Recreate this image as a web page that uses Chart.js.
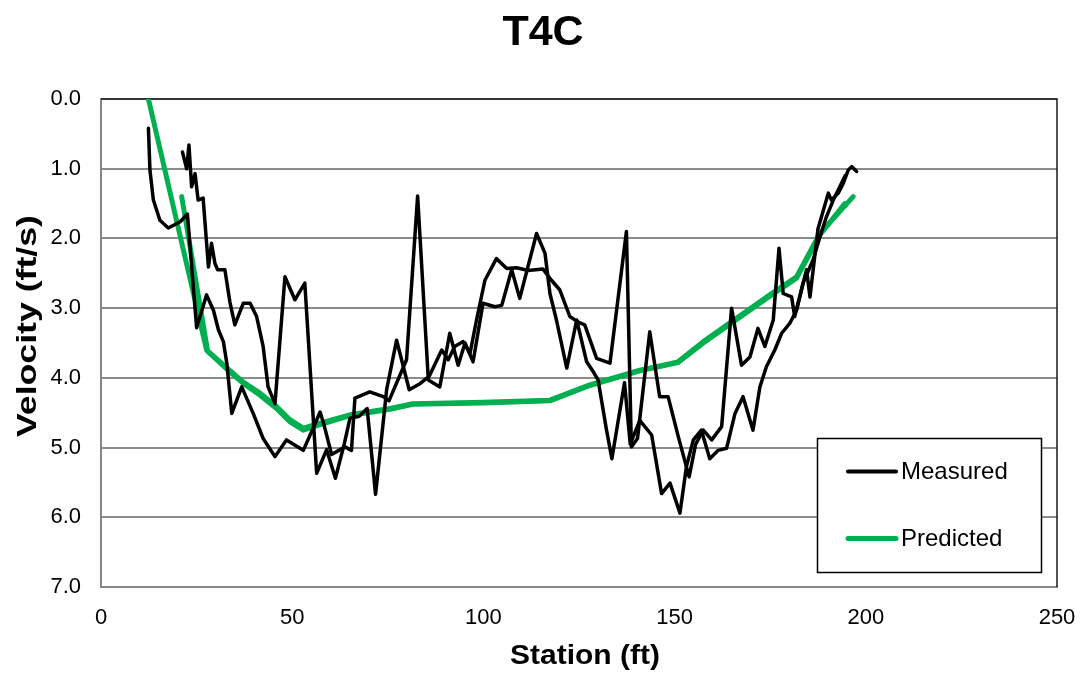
<!DOCTYPE html>
<html>
<head>
<meta charset="utf-8">
<title>T4C</title>
<script src="https://cdn.jsdelivr.net/npm/chart.js@4.4.1/dist/chart.umd.min.js"></script>
<style>
  html, body { margin: 0; padding: 0; background: #ffffff; }
  #wrap { width: 1084px; height: 673px; position: relative; }
</style>
</head>
<body>
<div id="wrap"><canvas id="chart" width="1084" height="673"></canvas></div>
<script>
// Traverse 1, measured velocity along the section
const run1Station = [12.4, 12.8, 13.7, 15.4, 17.6, 20.7, 22.6, 25.0, 27.6, 29.4, 30.7, 32.0, 32.9, 34.2, 36.8, 39.8, 42.4, 45.5, 48.5, 52.9, 55.5, 57.3, 58.2, 60.3, 63.8, 65.5, 66.4, 70.3, 73.8, 75.3, 79.9, 82.8, 85.6, 88.6, 91.2, 93.4, 95.2, 97.3, 99.9, 103.0, 104.8, 107.4, 109.5, 113.9, 116.1, 117.4, 119.1, 121.8, 124.4, 127.0, 128.7, 130.0, 132.2, 133.6, 136.9, 138.4, 140.9, 144.0, 146.6, 148.8, 151.4, 153.1, 154.9, 157.0, 159.2, 161.4, 163.6, 165.8, 167.9, 170.5, 172.3, 174.0, 176.2, 178.0, 180.1, 181.9, 183.6, 186.2, 188.0, 189.7, 191.5, 193.2, 194.6];
const run1Velocity = [0.42, 1.02, 1.45, 1.74, 1.85, 1.76, 1.65, 3.28, 2.81, 3.03, 3.31, 3.48, 3.79, 4.51, 4.13, 4.51, 4.87, 5.13, 4.89, 5.04, 4.72, 4.49, 4.65, 5.10, 4.99, 5.04, 4.29, 4.20, 4.27, 4.33, 3.74, 1.39, 4.03, 4.13, 3.36, 3.82, 3.50, 3.77, 2.93, 2.98, 2.96, 2.45, 2.86, 1.93, 2.21, 2.79, 3.17, 3.86, 3.17, 3.77, 3.91, 4.03, 4.75, 5.16, 4.07, 4.95, 4.61, 4.82, 5.66, 5.51, 5.94, 5.27, 4.89, 4.75, 5.16, 5.04, 5.01, 4.51, 4.27, 4.75, 4.13, 3.84, 3.60, 3.36, 3.22, 3.03, 2.64, 2.31, 1.98, 1.69, 1.45, 1.26, 1.10];

// Traverse 2, measured velocity along the section
const run2Station = [21.3, 22.4, 23.0, 23.7, 24.6, 25.4, 26.7, 28.1, 28.9, 29.8, 30.5, 32.4, 33.7, 35.0, 37.2, 39.0, 40.7, 42.4, 43.7, 45.5, 48.1, 50.7, 53.3, 56.4, 59.0, 61.3, 63.6, 65.1, 67.5, 69.6, 71.8, 74.7, 77.3, 80.6, 83.5, 85.8, 89.1, 90.8, 92.5, 94.7, 96.5, 98.2, 100.4, 103.4, 106.1, 108.7, 111.7, 115.6, 117.8, 120.0, 122.6, 124.8, 126.5, 129.6, 133.1, 137.4, 138.7, 140.3, 143.5, 146.1, 148.3, 151.0, 153.8, 155.5, 157.5, 159.7, 162.3, 164.9, 167.5, 169.7, 171.8, 173.6, 175.8, 177.3, 178.4, 180.6, 181.4, 184.5, 185.4, 187.5, 190.2, 191.0, 192.8, 194.1, 195.4, 196.3, 197.6];
const run2Velocity = [0.76, 1.00, 0.66, 1.26, 1.07, 1.45, 1.42, 2.41, 2.07, 2.36, 2.45, 2.45, 2.91, 3.24, 2.93, 2.93, 3.12, 3.55, 4.13, 4.37, 2.55, 2.88, 2.64, 5.37, 5.03, 5.44, 4.95, 4.58, 4.55, 4.44, 5.67, 4.17, 3.46, 4.17, 4.08, 3.98, 3.60, 3.74, 3.55, 3.48, 3.65, 3.17, 2.60, 2.29, 2.43, 2.42, 2.46, 2.44, 2.60, 2.74, 3.12, 3.20, 3.24, 3.72, 3.79, 1.90, 4.99, 4.87, 3.34, 4.27, 4.27, 4.85, 5.42, 4.95, 4.75, 4.89, 4.70, 3.00, 3.82, 3.70, 3.29, 3.55, 3.17, 2.14, 2.79, 2.84, 3.12, 2.45, 2.84, 1.86, 1.35, 1.45, 1.35, 1.21, 1.02, 0.97, 1.04];

// Predicted velocity for each traverse
const pred1Station = [12.4, 27.6, 33.0, 37.2, 41.6, 45.9, 49.4, 52.9, 57.3, 65.1, 75.6, 81.5, 100.0, 117.4, 127.8, 140.9, 150.9, 157.5, 174.9, 181.9, 188.0, 196.7];
const pred1Velocity = [0.00, 3.60, 3.86, 4.06, 4.22, 4.41, 4.60, 4.72, 4.65, 4.53, 4.44, 4.37, 4.35, 4.32, 4.10, 3.89, 3.77, 3.48, 2.81, 2.55, 1.93, 1.40];
const pred2Station = [21.1, 27.9, 33.0, 37.2, 41.6, 45.9, 49.4, 52.9, 57.3, 65.1, 75.6, 81.5, 100.0, 117.4, 127.8, 140.9, 150.9, 157.5, 174.9, 181.9, 188.0, 194.5];
const pred2Velocity = [1.40, 3.62, 3.88, 4.08, 4.25, 4.44, 4.63, 4.75, 4.67, 4.54, 4.45, 4.38, 4.36, 4.33, 4.11, 3.90, 3.78, 3.50, 2.83, 2.57, 1.95, 1.50];

// Axis ticks
const stationTicks = [0, 50, 100, 150, 200, 250];
const velocityTicks = [0, 1, 2, 3, 4, 5, 6, 7];

const MEASURED = '#000000';
const PREDICTED = '#00B050';
const FONT = '"Liberation Sans", Arial, Helvetica, sans-serif';

function pairs(xs, ys) {
  return xs.map((x, i) => ({ x: x, y: ys[i] }));
}

function lineSet(label, xs, ys, color, width, inLegend) {
  return {
    label: label,
    data: pairs(xs, ys),
    showLine: true,
    borderColor: color,
    backgroundColor: color,
    borderWidth: width,
    pointRadius: 0,
    pointHoverRadius: 0,
    tension: 0,
    fill: false,
    borderCapStyle: 'round',
    borderJoinStyle: 'round',
    inLegend: inLegend
  };
}

// Draws text stretched along its baseline to a given length
function stretchedText(ctx, text, cx, cy, length, angle) {
  const w = ctx.measureText(text).width;
  ctx.save();
  ctx.translate(cx, cy);
  ctx.rotate(angle);
  ctx.scale(length / w, 1);
  ctx.fillText(text, 0, 0);
  ctx.restore();
}

// Title, axis titles, frame and the boxed legend
const decorations = {
  id: 'decorations',
  beforeDatasetsDraw(chart) {
    const { ctx, chartArea: a } = chart;
    ctx.save();
    ctx.strokeStyle = '#1a1a1a';
    ctx.lineWidth = 1.5;
    ctx.beginPath();
    ctx.moveTo(a.left, a.top);
    ctx.lineTo(a.right, a.top);
    ctx.lineTo(a.right, a.bottom);
    ctx.stroke();
    ctx.restore();
  },
  afterDraw(chart) {
    const { ctx, chartArea: a } = chart;
    ctx.save();
    ctx.fillStyle = '#000';
    ctx.textAlign = 'center';
    ctx.textBaseline = 'middle';

    ctx.font = 'bold 43px ' + FONT;
    ctx.fillText('T4C', 543, 33);

    ctx.font = 'bold 28px ' + FONT;
    stretchedText(ctx, 'Station (ft)', 585, 656, 150, 0);
    stretchedText(ctx, 'Velocity (ft/s)', 28, 326, 222, -Math.PI / 2);

    // legend box
    const bx = 817.5, by = 438.5, bw = 224, bh = 134;
    ctx.fillStyle = '#ffffff';
    ctx.fillRect(bx, by, bw, bh);
    ctx.strokeStyle = '#000';
    ctx.lineWidth = 1.5;
    ctx.strokeRect(bx, by, bw, bh);

    const entries = chart.data.datasets.filter(d => d.inLegend);
    const rows = [471.5, 538.5];
    ctx.font = '24px ' + FONT;
    ctx.textAlign = 'left';
    entries.forEach((d, i) => {
      const y = rows[i];
      ctx.strokeStyle = d.borderColor;
      ctx.lineWidth = i === 0 ? 4 : 5;
      ctx.lineCap = 'round';
      ctx.beginPath();
      ctx.moveTo(848, y);
      ctx.lineTo(896, y);
      ctx.stroke();
      ctx.fillStyle = '#000';
      ctx.fillText(d.label, 901, y + 1);
    });
    ctx.restore();
  }
};

new Chart(document.getElementById('chart'), {
  type: 'scatter',
  data: {
    datasets: [
      lineSet('Measured', run1Station, run1Velocity, MEASURED, 3.5, true),
      lineSet('Measured', run2Station, run2Velocity, MEASURED, 3.5, false),
      lineSet('Predicted', pred1Station, pred1Velocity, PREDICTED, 5, true),
      lineSet('Predicted', pred2Station, pred2Velocity, PREDICTED, 5, false)
    ]
  },
  options: {
    responsive: false,
    animation: false,
    devicePixelRatio: 1,
    layout: { padding: { top: 99, right: 27, left: 0, bottom: 0 } },
    plugins: {
      legend: { display: false },
      title: { display: false },
      tooltip: { enabled: false }
    },
    scales: {
      x: {
        type: 'linear',
        min: stationTicks[0],
        max: stationTicks[stationTicks.length - 1],
        afterBuildTicks: (s) => { s.ticks = stationTicks.map(v => ({ value: v })); },
        afterFit: (s) => { s.height = 86; s.paddingLeft = 0; s.paddingRight = 0; },
        ticks: { color: '#000', font: { family: FONT, size: 22 }, padding: 18, maxRotation: 0 },
        grid: { display: false, drawTicks: false },
        border: { display: true, color: '#868686', width: 2 }
      },
      y: {
        type: 'linear',
        reverse: true,
        min: velocityTicks[0],
        max: velocityTicks[velocityTicks.length - 1],
        afterBuildTicks: (s) => { s.ticks = velocityTicks.map(v => ({ value: v })); },
        afterFit: (s) => { s.width = 101; s.paddingTop = 0; s.paddingBottom = 0; },
        ticks: {
          color: '#000',
          font: { family: FONT, size: 22 },
          padding: 20,
          callback: (v) => Number(v).toFixed(1)
        },
        grid: { color: '#8c8c8c', lineWidth: 2, drawTicks: false },
        border: { display: true, color: '#868686', width: 2 }
      }
    }
  },
  plugins: [decorations]
});
</script>
</body>
</html>
